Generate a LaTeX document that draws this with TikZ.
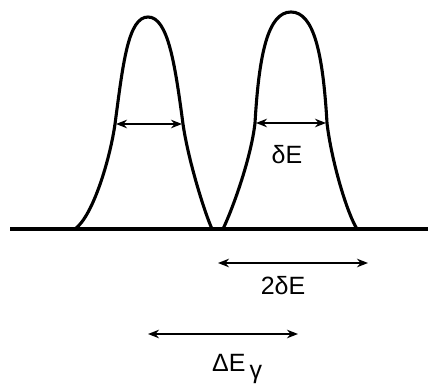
\documentclass[tikz,border=0pt]{standalone}
\usepackage{fontspec}
\setmainfont{Liberation Sans}
\usetikzlibrary{arrows.meta}
\begin{document}
\begin{tikzpicture}[x=1pt,y=-1pt,
  curve/.style={line width=3.1pt, line join=round, line cap=round},
  dim/.style={line width=2pt, {Stealth[length=11pt,width=8.5pt]}-{Stealth[length=11pt,width=8.5pt]}},
  lab/.style={inner sep=0pt, font=\fontsize{25}{28}\selectfont}]
\useasboundingbox (0,0) rectangle (428,385);
% baseline
\coordinate (b0) at (10,229);
\coordinate (b1) at (428,229);
\draw[line width=3.6pt] (b0) -- (b1);
% left peak
\coordinate (lf1) at (75,229); \coordinate (lm1) at (115,124);
\coordinate (lt) at (148,17);
\coordinate (lm2) at (183,124); \coordinate (lf2) at (212,229);
\draw[curve] (lf1) .. controls (93,216) and (110,159) .. (lm1)
  .. controls (123,64) and (128,17) .. (lt)
  .. controls (168,17) and (175,64) .. (lm2)
  .. controls (188,159) and (204,211) .. (lf2);
% right peak
\coordinate (rf1) at (223,229); \coordinate (rm1) at (255,123);
\coordinate (rt) at (291,12);
\coordinate (rm2) at (327,123); \coordinate (rf2) at (357,229);
\draw[curve] (rf1) .. controls (233,208) and (251,158) .. (rm1)
  .. controls (259,54) and (268,12) .. (rt)
  .. controls (314,12) and (323,54) .. (rm2)
  .. controls (331,158) and (346,211) .. (rf2);
% width arrows
\coordinate (l1) at (116,124); \coordinate (l2) at (182,124);
\draw[dim] (l1) -- (l2);
\coordinate (r1) at (256,123); \coordinate (r2) at (326,123);
\draw[dim] (r1) -- (r2);
\node[lab] (dE) at (287,155) {δE};
% 2 delta E
\coordinate (s1) at (218,263); \coordinate (s2) at (368,263);
\draw[dim] (s1) -- (s2);
\node[lab] (tdE) at (283,286) {2δE};
% Delta E gamma
\coordinate (g1) at (148,334); \coordinate (g2) at (298,334);
\draw[dim] (g1) -- (g2);
\node[lab, anchor=base west] (DEg) at (212,371) {ΔE\raisebox{-7pt}{\,γ}};
\end{tikzpicture}
\end{document}
